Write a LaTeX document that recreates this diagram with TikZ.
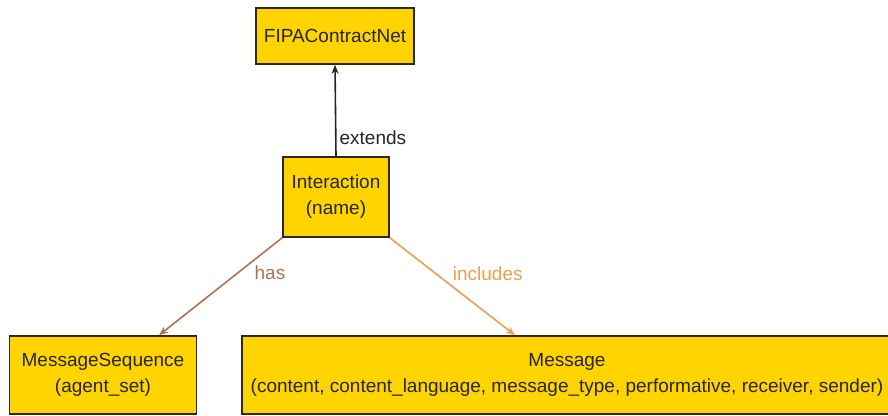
\documentclass[tikz,border=0pt]{standalone}
\usepackage{fontspec}
\setmainfont{Liberation Sans}
\usetikzlibrary{arrows.meta}
\definecolor{boxgold}{RGB}{255,212,0}
\definecolor{boxline}{RGB}{45,40,30}
\definecolor{hasbrown}{RGB}{178,112,82}
\definecolor{inclorange}{RGB}{238,158,78}
\begin{document}
\begin{tikzpicture}[x=1pt,y=-1pt,
	classbox/.style={draw=boxline,fill=boxgold,line width=1.6pt,align=center,inner sep=0pt,text=black!85,font=\fontsize{19}{26}\selectfont},
	relation/.style={line width=1.6pt,arrows={-Stealth[length=9pt,width=7pt]}},
	rellabel/.style={font=\fontsize{19}{26}\selectfont,anchor=west,inner sep=0pt}]
	\useasboundingbox (0,0) rectangle (888,415);
	\node [classbox,minimum width=158,minimum height=56] (fipa) at (335,36) {FIPAContractNet};
	\node [classbox,minimum width=106,minimum height=80] (inter) at (336,197) {Interaction\\(name)};
	\node [classbox,minimum width=187,minimum height=78] (seq) at (103,375) {MessageSequence\\(agent\_set)};
	\node [classbox,minimum width=650,minimum height=78] (msg) at (567,375) {Message\\(content, content\_language, message\_type, performative, receiver, sender)};
	\draw [relation,black!85] (inter.north) -- node [rellabel,pos=0.2,text=black!85,xshift=3] {extends} (fipa.south);
	\draw [relation,hasbrown] (inter.south west) -- node [rellabel,pos=0.36,text=hasbrown,xshift=16] {has} ([xshift=56]seq.north);
	\draw [relation,inclorange] (inter.south east) -- node [rellabel,pos=0.37,text=inclorange,xshift=16] {includes} ([xshift=-52]msg.north);
\end{tikzpicture}
\end{document}
